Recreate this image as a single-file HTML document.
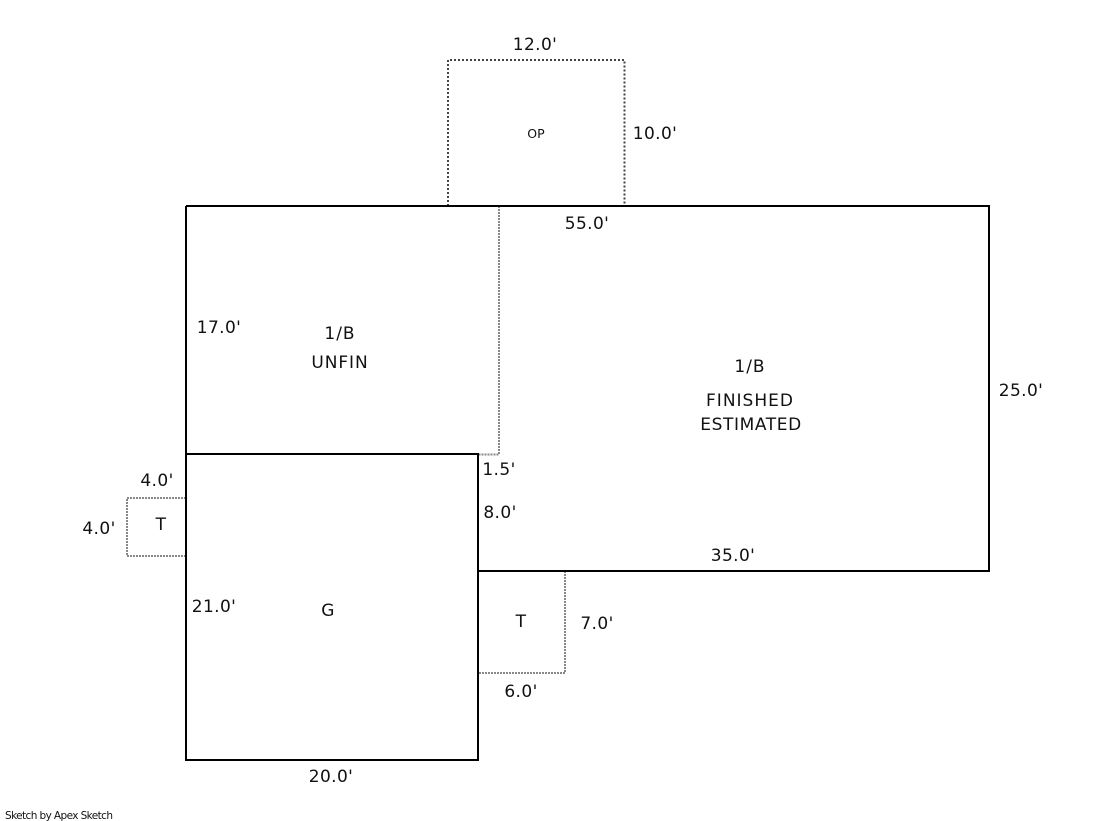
<!DOCTYPE html>
<html>
<head>
<meta charset="utf-8">
<style>
html,body{margin:0;padding:0;background:#fff;width:1119px;height:821px;overflow:hidden}
svg{display:block}
text{font-family:"DejaVu Sans","Liberation Sans",sans-serif;font-size:17px;fill:#111;letter-spacing:0.400px}
</style>
</head>
<body>
<svg width="1119" height="821" viewBox="0 0 1119 821" xmlns="http://www.w3.org/2000/svg">
<rect width="1119" height="821" fill="#fff"/>
<g fill="none" stroke-width="2" shape-rendering="crispEdges">
<path d="M448 206V60H624.500V206" stroke="#444" stroke-dasharray="2 2"/>
<path d="M499 206V454.500H478" stroke="#888" stroke-dasharray="2 1"/>
<path d="M186 498H127V556H186" stroke="#888" stroke-dasharray="2 1"/>
<path d="M565 571V673H478" stroke="#888" stroke-dasharray="2 1"/>
<path d="M186 206H989V571H478M186 206V760H478V454H186" stroke="#000"/>
</g>
<g text-anchor="middle">
<text x="535" y="50">12.0'</text>
<text x="655" y="139">10.0'</text>
<text x="587" y="229">55.0'</text>
<text x="219" y="333">17.0'</text>
<text x="340" y="339" style="letter-spacing:1px">1/B</text>
<text x="340" y="368" style="letter-spacing:0.900px">UNFIN</text>
<text x="750" y="372" style="letter-spacing:1px">1/B</text>
<text x="750" y="406" style="letter-spacing:1px">FINISHED</text>
<text x="751" y="430" style="letter-spacing:0.600px">ESTIMATED</text>
<text x="1021" y="396">25.0'</text>
<text x="499" y="475">1.5'</text>
<text x="500" y="518">8.0'</text>
<text x="733" y="561">35.0'</text>
<text x="157" y="486">4.0'</text>
<text x="99" y="534">4.0'</text>
<text x="161" y="530">T</text>
<text x="214" y="612">21.0'</text>
<text x="328" y="616">G</text>
<text x="521" y="627">T</text>
<text x="597" y="629">7.0'</text>
<text x="521" y="697">6.0'</text>
<text x="331" y="782">20.0'</text>
<text x="536" y="138" style="font-size:12.500px;letter-spacing:0">OP</text>
</g>
<text x="5" y="819" style="font-size:10.500px;letter-spacing:-0.600px">Sketch by Apex Sketch</text>
</svg>
</body>
</html>
